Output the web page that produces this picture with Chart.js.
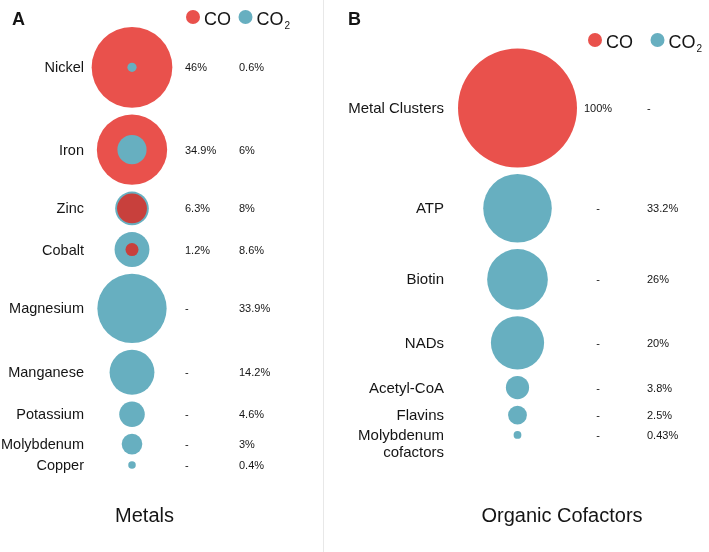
<!DOCTYPE html>
<html>
<head>
<meta charset="utf-8">
<script src="https://cdn.jsdelivr.net/npm/chart.js@4.4.0/dist/chart.umd.min.js"></script>
<style>
  html, body { margin: 0; padding: 0; background: #fff; }
  #wrap { position: relative; width: 709px; height: 552px; }
  #a { position: absolute; left: 0; top: 0; }
  #b { position: absolute; left: 324px; top: 0; }
  #divider { position: absolute; left: 323px; top: 0; width: 1px; height: 552px; background: #e8e8e8; }
</style>
</head>
<body>
<div id="wrap">
  <canvas id="a" width="323" height="552"></canvas>
  <div id="divider"></div>
  <canvas id="b" width="385" height="552"></canvas>
</div>
<script>
// values in percent, null = not reported ("-")
const metals = ['Nickel', 'Iron', 'Zinc', 'Cobalt', 'Magnesium', 'Manganese', 'Potassium', 'Molybdenum', 'Copper'];
const metalsCO = [46, 34.9, 6.3, 1.2, null, null, null, null, null];
const metalsCO2 = [0.6, 6, 8, 8.6, 33.9, 14.2, 4.6, 3, 0.4];

const cofactors = ['Metal Clusters', 'ATP', 'Biotin', 'NADs', 'Acetyl-CoA', 'Flavins', ['Molybdenum', 'cofactors']];
const cofactorsCO = [100, null, null, null, null, null, null];
const cofactorsCO2 = [null, 33.2, 26, 20, 3.8, 2.5, 0.43];

const FONT = "'Liberation Sans', Arial, Helvetica, sans-serif";
const RED = '#e9514c', DARK_RED = '#c8403c', TEAL = '#67afc0', INK = '#151515';
const K = 5.95; // px radius per sqrt(percent)
const rad = v => K * Math.sqrt(v);
const pct = v => v == null ? '-' : v + '%';

// stack rows top to bottom, each row as tall as its biggest bubble
function rowCenters(co, co2, top, gap) {
  const ys = [];
  let prevR = null, y = top;
  co.forEach((v, i) => {
    const r = Math.max(v ? rad(v) : 0, co2[i] ? rad(co2[i]) : 0);
    y = prevR === null ? top + r : y + prevR + gap + r;
    ys.push(y);
    prevR = r;
  });
  return ys;
}

function points(values, other, rows, cx) {
  return values
    .map((v, i) => v == null ? null : { x: cx, y: rows[i], r: rad(v), v: v, other: other[i] })
    .filter(Boolean);
}

// draw bigger circles first so the smaller one always sits on top
const bigFirst = {
  id: 'bigFirst',
  beforeDatasetsDraw(chart) {
    const els = [];
    chart.getSortedVisibleDatasetMetas().forEach(m => els.push(...m.data));
    els.sort((a, b) => b.options.radius - a.options.radius);
    els.forEach(el => el.draw(chart.ctx, chart.chartArea));
    return false;
  }
};

const panelText = {
  id: 'panelText',
  afterDraw(chart, args, o) {
    const ctx = chart.ctx, y = chart.scales.y;
    ctx.save();
    ctx.textBaseline = 'alphabetic';
    ctx.fillStyle = INK;
    ctx.textAlign = 'left';
    ctx.font = 'bold 18px ' + FONT;
    ctx.fillText(o.letter, o.letterX, 25);

    o.legend.forEach(it => {
      ctx.fillStyle = it.color;
      ctx.beginPath(); ctx.arc(it.x, it.y, 7, 0, Math.PI * 2); ctx.fill();
      ctx.fillStyle = INK;
      ctx.font = '18px ' + FONT;
      ctx.textAlign = 'left';
      ctx.fillText(it.text, it.x + 11, it.y + 7.5);
      if (it.sub) {
        const w = ctx.measureText(it.text).width;
        ctx.font = '10px ' + FONT;
        ctx.fillText(it.sub, it.x + 12 + w, it.y + 12);
      }
    });

    o.labels.forEach((lab, i) => {
      const py = y.getPixelForValue(o.rows[i]);
      ctx.font = o.labelSize + 'px ' + FONT;
      ctx.textAlign = 'right';
      [].concat(lab).forEach((line, j) => ctx.fillText(line, o.labelX, py + 5 + j * 17));
      ctx.font = '11px ' + FONT;
      ctx.textAlign = o.coAlign;
      ctx.fillText(pct(o.co[i]), o.coX, py + 4);
      ctx.textAlign = 'left';
      ctx.fillText(pct(o.co2[i]), o.co2X, py + 4);
    });

    ctx.font = '20px ' + FONT;
    ctx.textAlign = 'center';
    ctx.fillText(o.title, o.titleX, 522);
    ctx.restore();
  }
};

function makePanel(id, p) {
  const el = document.getElementById(id);
  const rows = rowCenters(p.co, p.co2, p.top, p.gap);
  // Chart.js pads the chart area by the biggest bubble radius; offset the
  // scale limits by the same amount so one unit stays one canvas pixel
  const pad = Math.max(...p.co.concat(p.co2).filter(v => v != null).map(rad));
  const fill = ctx => {
    const d = ctx.raw;
    if (ctx.datasetIndex === 0) return d && d.other != null && d.v < d.other ? DARK_RED : RED;
    return TEAL;
  };
  return new Chart(el, {
    type: 'bubble',
    data: {
      datasets: [
        { label: 'CO', data: points(p.co, p.co2, rows, p.cx), backgroundColor: fill, borderWidth: 0, clip: false },
        { label: 'CO₂', data: points(p.co2, p.co, rows, p.cx), backgroundColor: fill, borderWidth: 0, clip: false }
      ]
    },
    options: {
      responsive: false,
      animation: false,
      events: [],
      layout: { padding: 0 },
      scales: {
        x: { type: 'linear', display: false, min: pad, max: el.width - pad },
        y: { type: 'linear', display: false, min: pad, max: el.height - pad, reverse: true }
      },
      plugins: {
        legend: { display: false },
        tooltip: { enabled: false },
        panelText: {
          letter: p.letter, letterX: p.letterX, legend: p.legend, title: p.title, titleX: p.titleX,
          labels: p.labels, rows: rows, co: p.co, co2: p.co2,
          labelX: p.labelX, labelSize: p.labelSize, coX: p.coX, coAlign: p.coAlign, co2X: p.co2X
        }
      }
    },
    plugins: [bigFirst, panelText]
  });
}

makePanel('a', {
  labels: metals, co: metalsCO, co2: metalsCO2,
  top: 27, gap: 6.8, cx: 132,
  letter: 'A', letterX: 12, title: 'Metals', titleX: 144.5,
  labelX: 84, labelSize: 14.5, coX: 185, coAlign: 'left', co2X: 239,
  legend: [
    { x: 193, y: 17, color: RED, text: 'CO' },
    { x: 245.5, y: 17, color: TEAL, text: 'CO', sub: '2' }
  ]
});

makePanel('b', {
  labels: cofactors, co: cofactorsCO, co2: cofactorsCO2,
  top: 48.5, gap: 6.5, cx: 193.5,
  letter: 'B', letterX: 24, title: 'Organic Cofactors', titleX: 238,
  labelX: 120, labelSize: 15, coX: 274, coAlign: 'center', co2X: 323,
  legend: [
    { x: 271, y: 40, color: RED, text: 'CO' },
    { x: 333.5, y: 40, color: TEAL, text: 'CO', sub: '2' }
  ]
});
</script>
</body>
</html>
